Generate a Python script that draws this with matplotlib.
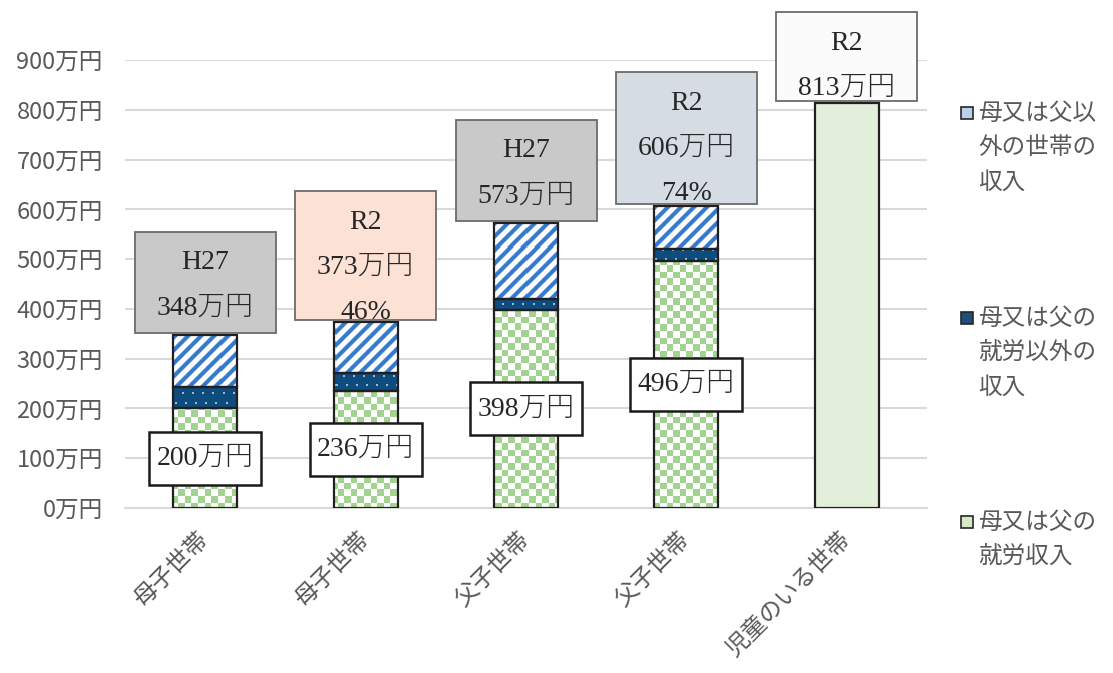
import matplotlib
matplotlib.use('Agg')
import matplotlib.pyplot as plt
from matplotlib.patches import Rectangle
import numpy as np

plt.rcParams['font.family'] = ['Noto Sans CJK JP', 'DejaVu Sans']

# データ
categories = ['母子世帯', '母子世帯', '父子世帯', '父子世帯', '児童のいる世帯']
work_income = [200, 236, 398, 496, 813]
other_income = [44, 36, 22, 24, 0]
household_income = [104, 101, 153, 86, 0]
survey_year = ['H27', 'R2', 'H27', 'R2', 'R2']
total_income = [348, 373, 573, 606, 813]
ratio_text = ['', '46%', '', '74%', '']
y_ticks = [0, 100, 200, 300, 400, 500, 600, 700, 800, 900]
legend_labels = [
    ['母又は父以', '外の世帯の', '収入'],
    ['母又は父の', '就労以外の', '収入'],
    ['母又は父の', '就労収入'],
]

# 見た目
W, H = 1113, 673
AX_L, AX_T, AX_W, AX_H = 125, 60, 802, 448
box_colors = ['#c9c9c9', '#fbe2d5', '#c9c9c9', '#d6dce4', '#fbfbfb']
box_heights = [101, 129, 101, 132, 89]
serif = ['Liberation Serif', 'Noto Sans CJK JP']
gray_text = '#595959'
edge = '#231f20'

fig = plt.figure(figsize=(W / 100, H / 100), dpi=100)
ax = fig.add_axes([AX_L / W, (H - AX_T - AX_H) / H, AX_W / W, AX_H / H])

px_x = 5 / AX_W
px_y = 900 / AX_H


# 模様 (axes のピクセル単位)
yy, xx = np.mgrid[0:AX_H, 0:AX_W]


def blend(t, c1, c2):
    c1 = np.array(matplotlib.colors.to_rgb(c1))
    c2 = np.array(matplotlib.colors.to_rgb(c2))
    return t[..., None] * c1 + (1 - t[..., None]) * c2


checker = (((xx / 6.6).astype(int) + (yy / 6.6).astype(int)) % 2).astype(float)
checker_img = blend(checker, '#a3d391', '#ffffff')

wave = 0.5 + 0.5 * np.cos(2 * np.pi * (xx + yy) / 13.0)
stripe = np.clip((wave - 0.35) * 2.2, 0, 1)
stripe_img = blend(stripe, '#3579cf', '#ffffff')

dots = (((xx + 3 * ((yy // 9) % 2)) % 10 < 2) & (yy % 9 < 2)).astype(float)
dot_img = blend(dots, '#9cb9d4', '#0e4c7d')

x = np.arange(len(categories))
n = 4
bottom2 = np.array(work_income[:n]) + np.array(other_income[:n])

kw = dict(width=0.4, facecolor='none', edgecolor=edge, linewidth=1.6, zorder=3)
bars_work = ax.bar(x[:n], work_income[:n], **kw)
bars_other = ax.bar(x[:n], other_income[:n], bottom=work_income[:n], **kw)
bars_house = ax.bar(x[:n], household_income[:n], bottom=bottom2, **kw)
ax.bar(x[n], work_income[n], width=0.4, facecolor='#e2efda', edgecolor=edge,
       linewidth=1.6, zorder=3)

for bars, img in [(bars_work, checker_img), (bars_other, dot_img), (bars_house, stripe_img)]:
    for patch in bars:
        im = ax.imshow(img, extent=(-0.5, 4.5, 0, 900), origin='upper',
                       aspect='auto', interpolation='nearest', zorder=2)
        im.set_clip_path(patch)

ax.set_xlim(-0.5, 4.5)
ax.set_ylim(0, 900)

# 軸
ax.set_yticks(y_ticks)
ax.set_yticklabels([f'{v}万円' for v in y_ticks], fontsize=17, color=gray_text)
ax.set_xticks(x)
ax.set_xticklabels(categories, fontsize=17, color=gray_text, rotation=45,
                   ha='right', va='center', rotation_mode='anchor')
ax.tick_params(axis='y', length=0, pad=16)
ax.tick_params(axis='x', length=0, pad=20)
ax.yaxis.grid(True, color='#d9d9d9', linewidth=1.5)
ax.set_axisbelow(True)
for side in ['left', 'right', 'top']:
    ax.spines[side].set_visible(False)
ax.spines['bottom'].set_color('#d9d9d9')
ax.spines['bottom'].set_linewidth(1.5)

# 上のラベル箱
bw = 141 * px_x
for i in range(len(categories)):
    lines = [survey_year[i], f'{total_income[i]}万円']
    if ratio_text[i]:
        lines.append(ratio_text[i])
    b = total_income[i] + 2 * px_y
    h = box_heights[i] * px_y
    ax.add_patch(Rectangle((x[i] - bw / 2, b), bw, h, facecolor=box_colors[i],
                           edgecolor='#6b6b6b', linewidth=1.3, zorder=4, clip_on=False))
    top = b + h
    for k, s in enumerate(lines):
        ax.text(x[i], top - (31 + 45 * k) * px_y, s, ha='center', va='center',
                fontsize=20, family=serif, fontweight='light', color='#262626',
                zorder=5, clip_on=False)

# 就労収入の箱
vw, vh = 112 * px_x, 53 * px_y
for i in range(n):
    cy = work_income[i] / 2
    ax.add_patch(Rectangle((x[i] - vw / 2, cy - vh / 2), vw, vh, facecolor='white',
                           edgecolor='#1a1a1a', linewidth=1.8, zorder=4))
    ax.text(x[i], cy, f'{work_income[i]}万円', ha='center', va='center',
            fontsize=20, family=serif, fontweight='light', color='#262626', zorder=5)

# 凡例
legend_colors = ['#bcd0ee', '#1f4e79', '#d5e8c8']
legend_top = [113, 318, 522]
for lab, col, y0 in zip(legend_labels, legend_colors, legend_top):
    fig.add_artist(Rectangle((961 / W, 1 - (y0 + 6) / H), 12 / W, 12 / H,
                             transform=fig.transFigure, facecolor=col,
                             edgecolor='#262626', linewidth=1.2))
    for k, s in enumerate(lab):
        fig.text(978 / W, 1 - (y0 + 34.5 * k) / H, s, ha='left', va='center',
                 fontsize=17, color=gray_text)

fig.savefig('out.png', dpi=100)
